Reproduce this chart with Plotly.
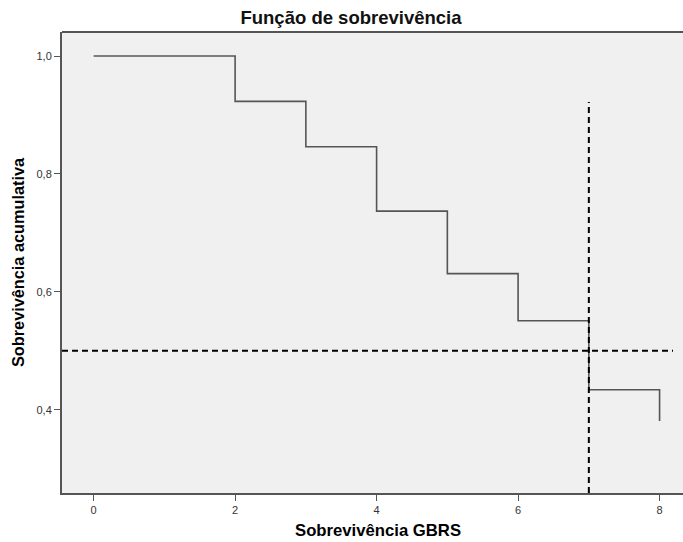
import plotly.graph_objects as go

# Kaplan-Meier estimate: event times and cumulative survival
times = [0, 2, 3, 4, 5, 6, 7, 8]
survival = [1.0, 0.923, 0.846, 0.737, 0.631, 0.551, 0.434, 0.381]

# Reference lines: median survival level and time where it is crossed
median_level = 0.5
median_time = 7
hline_end = 8.19
vline_top = 0.922

x_ticks = [0, 2, 4, 6, 8]
y_ticks = [0.4, 0.6, 0.8, 1.0]

x_range = [-0.447, 8.331]
y_range = [0.259, 1.0407]

FONT = "Liberation Sans, Arial, sans-serif"

fig = go.Figure()
fig.add_trace(go.Scatter(
    x=times, y=survival, mode="lines", line_shape="hv",
    line=dict(color="#555555", width=1.6), showlegend=False, hoverinfo="skip",
))

fig.add_shape(type="line", xref="x", yref="y",
              x0=x_range[0], x1=hline_end, y0=median_level, y1=median_level,
              line=dict(color="black", width=2, dash="6px,4px"))
fig.add_shape(type="line", xref="x", yref="y",
              x0=median_time, x1=median_time, y0=y_range[0], y1=vline_top,
              line=dict(color="black", width=2, dash="6px,4px"))
# top frame line of the plot area
fig.add_shape(type="line", xref="paper", yref="paper", x0=0, x1=1, y0=1, y1=1,
              line=dict(color="#555555", width=2))

axis_font = dict(family=FONT, size=11, color="#333333")

fig.update_layout(
    width=683, height=542,
    margin=dict(l=62, r=0, t=32, b=49),
    paper_bgcolor="white", plot_bgcolor="#f0f0f0",
    separators=",.",
    title=dict(text="<b>Função de sobrevivência</b>", x=351 / 683, xanchor="center",
               y=1 - 18 / 542, yanchor="middle",
               font=dict(family=FONT, size=18.5, color="#111111")),
    xaxis=dict(range=x_range, tickvals=x_ticks, tickformat="d", showgrid=False, zeroline=False,
               showline=True, linecolor="#555555", linewidth=2,
               ticks="outside", ticklen=6, tickcolor="#555555", tickwidth=1,
               tickfont=axis_font),
    yaxis=dict(range=y_range, tickvals=y_ticks, tickformat=".1f", showgrid=False, zeroline=False,
               showline=True, linecolor="#555555", linewidth=2,
               ticks="outside", ticklen=6, tickcolor="#555555", tickwidth=1,
               tickfont=axis_font),
    annotations=[
        dict(text="<b>Sobrevivência GBRS</b>", xref="paper", yref="paper",
             x=(377.5 - 62) / 621, y=-(530 - 493) / 461, xanchor="center", yanchor="middle",
             showarrow=False,
             font=dict(family=FONT, size=16.7, color="black")),
        dict(text="<b>Sobrevivência acumulativa</b>", xref="paper", yref="paper",
             x=-(62 - 18) / 621, y=(493 - 262) / 461, xanchor="center", yanchor="middle",
             textangle=-90, showarrow=False,
             font=dict(family=FONT, size=16.3, color="black")),
    ],
)

fig.write_html("out.html")
